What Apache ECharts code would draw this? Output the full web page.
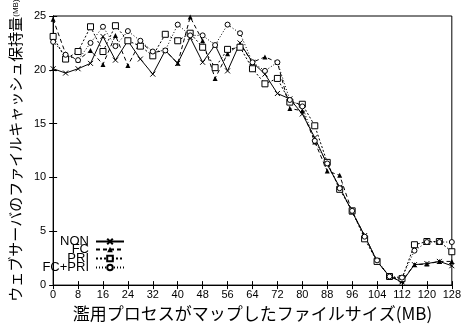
<!DOCTYPE html>
<html>
<head>
<meta charset="utf-8">
<script src="https://cdn.jsdelivr.net/npm/echarts@6/dist/echarts.min.js"></script>
<style>
  html, body { margin: 0; padding: 0; background: #fff; }
  #main { width: 464px; height: 327px; }
</style>
</head>
<body>
<div id="main"></div>
<script>
var sizes = [0, 4, 8, 12, 16, 20, 24, 28, 32, 36, 40, 44, 48, 52, 56, 60, 64,
             68, 72, 76, 80, 84, 88, 92, 96, 100, 104, 108, 112, 116, 120, 124, 128]

var non = [20.1, 19.7, 20.1, 20.6, 23.1, 20.9, 22.7, 21.0, 19.6, 21.8, 20.6, 23.0, 20.7, 22.3, 19.9, 22.5, 20.7,
           19.6, 17.8, 17.3, 15.9, 13.7, 11.2, 9.1, 6.8, 4.6, 2.2, 0.8, 0.3, 1.9, 2.0, 2.2, 1.8]
var fc = [24.7, 21.5, 20.9, 21.8, 20.5, 23.2, 20.4, 22.6, 21.6, 21.8, 20.6, 24.9, 22.7, 19.2, 21.5, 22.4, 20.7,
          21.2, 20.7, 16.4, 16.2, 13.3, 10.6, 10.2, 6.8, 4.6, 2.2, 0.8, 0.4, 1.9, 1.95, 2.2, 2.2]
var pri = [23.1, 21.0, 21.7, 24.0, 21.7, 24.1, 22.7, 22.2, 21.3, 23.3, 22.7, 23.4, 22.1, 20.2, 21.9, 22.1, 20.1,
           18.7, 19.2, 17.0, 16.8, 14.8, 11.4, 8.9, 6.9, 4.3, 2.2, 0.8, 0.6, 3.75, 4.05, 4.05, 3.1]
var fcPri = [22.6, 21.4, 20.9, 22.5, 24.0, 22.2, 23.6, 22.7, 21.7, 21.8, 24.2, 23.2, 23.2, 22.3, 24.2, 23.4, 20.7,
             19.9, 20.7, 17.2, 16.6, 13.4, 11.3, 9.0, 6.9, 4.5, 2.3, 0.8, 0.7, 3.2, 4.0, 4.0, 4.0]

var xName = '濫用プロセスがマップしたファイルサイズ(MB)'
var yName = 'ウェブサーバのファイルキャッシュ保持量'

function pairs(vals) {
    return sizes.map(function (s, i) { return [s, vals[i]] })
}

var font = 'Liberation Sans'
var black = '#000'

var chart = echarts.init(document.getElementById('main'))

function legendFor(name, top) {
    return {
        data: [name],
        orient: 'vertical',
        align: 'right',
        right: 339,
        top: top,
        padding: 0,
        itemWidth: 28,
        itemHeight: 7,
        itemGap: 0,
        textStyle: { color: black, fontSize: 13, fontFamily: font, padding: [0, 2, 0, 0] }
    }
}

var option = {
    backgroundColor: '#fff',
    animation: false,
    grid: {
        left: 46,
        right: 3,
        top: 16,
        bottom: 29,
        show: true,
        borderColor: black,
        borderWidth: 1
    },
    legend: [
        legendFor('NON', 235),
        legendFor('FC', 243),
        legendFor('PRI', 252),
        legendFor('FC+PRI', 261)
    ],
    xAxis: [
        {
            type: 'value',
            min: 0,
            max: 128,
            interval: 8,
            name: xName,
            nameLocation: 'middle',
            nameGap: 13,
            nameTextStyle: { color: black, fontSize: 17, fontFamily: 'Noto Sans CJK JP' },
            axisLine: { lineStyle: { color: black } },
            axisTick: { inside: true, length: 4, lineStyle: { color: black } },
            axisLabel: { color: black, fontSize: 11, fontFamily: font, margin: 4 },
            splitLine: { show: false }
        },
        {
            type: 'value',
            position: 'top',
            min: 0,
            max: 128,
            interval: 8,
            axisLine: { lineStyle: { color: black } },
            axisTick: { inside: true, length: 4, lineStyle: { color: black } },
            axisLabel: { show: false },
            splitLine: { show: false }
        }
    ],
    yAxis: [
        {
            type: 'value',
            min: 0,
            max: 25,
            interval: 5,
            name: '{a|' + yName + '}{b|(MB)}',
            nameLocation: 'middle',
            nameGap: 27,
            nameRotate: 90,
            nameTextStyle: {
                rich: {
                    a: { color: black, fontSize: 15, fontFamily: 'Noto Sans CJK JP' },
                    b: { color: black, fontSize: 8, fontFamily: font }
                }
            },
            axisLine: { lineStyle: { color: black } },
            axisTick: { inside: true, length: 4, lineStyle: { color: black } },
            axisLabel: { color: black, fontSize: 11, fontFamily: font, margin: 7 },
            splitLine: { show: false }
        },
        {
            type: 'value',
            position: 'right',
            min: 0,
            max: 25,
            interval: 5,
            axisLine: { lineStyle: { color: black } },
            axisTick: { inside: true, length: 4, lineStyle: { color: black } },
            axisLabel: { show: false },
            splitLine: { show: false }
        }
    ],
    series: [
        {
            name: 'NON',
            type: 'line',
            data: pairs(non),
            symbol: 'path://M0,0L10,10M10,0L0,10',
            symbolSize: 5,
            itemStyle: { color: black, borderColor: black, borderWidth: 1 },
            lineStyle: { color: black, width: 1 }
        },
        {
            name: 'FC',
            type: 'line',
            data: pairs(fc),
            symbol: 'triangle',
            symbolSize: 5,
            itemStyle: { color: black },
            lineStyle: { color: black, width: 1, type: [4, 3] }
        },
        {
            name: 'PRI',
            type: 'line',
            data: pairs(pri),
            symbol: 'rect',
            symbolSize: 6,
            itemStyle: { color: '#fff', borderColor: black, borderWidth: 1 },
            lineStyle: { color: black, width: 1, type: [2, 2] }
        },
        {
            name: 'FC+PRI',
            type: 'line',
            data: pairs(fcPri),
            symbol: 'circle',
            symbolSize: 5,
            itemStyle: { color: '#fff', borderColor: black, borderWidth: 1 },
            lineStyle: { color: black, width: 1, type: [1, 2] }
        }
    ]
}

chart.setOption(option)
</script>
</body>
</html>
